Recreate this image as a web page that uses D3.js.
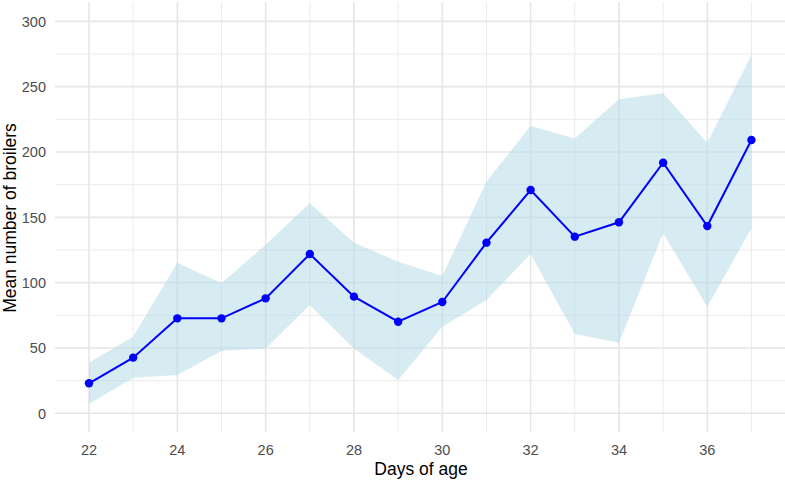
<!DOCTYPE html>
<html><head><meta charset="utf-8">
<script src="https://cdn.jsdelivr.net/npm/d3@7"></script>
<style>body{margin:0;background:#fff}svg{display:block}</style>
</head><body><svg id="c" width="785" height="480"></svg>
<script>
const days = [22,23,24,25,26,27,28,29,30,31,32,33,34,35,36,37];
const meanVals = [23,42.6,72.7,72.7,88,121.9,89.3,70.1,85.2,130.6,170.9,135.2,146.2,191.8,143.3,209.2];
const upperVals = [38.7,58.6,115.3,99.5,129,160.7,130.6,116,105,177.2,219.9,210.4,240.3,244.9,207.1,274.2];
const lowerVals = [7.1,27.2,29.3,47.7,49.7,82.9,49.7,25.5,66.3,86.7,121.9,60.7,54,137.8,81.6,141.6];
const xTicks = [22,24,26,28,30,32,34,36];
const xMinor = [23,25,27,29,31,33,35,37];
const yTicks = [0,50,100,150,200,250,300];
const yMinor = [25,75,125,175,225,275];

const svg = d3.select("#c");
const L=55,R=785,T=2,B=432;
const x = d3.scaleLinear().domain([21.23,37.76]).range([L,R]);
const y = d3.scaleLinear().domain([-14.3,314.8]).range([B,T]);
const font = "'Liberation Sans', Arial, sans-serif";

const g = svg.append("g");
// grid
g.selectAll(".ym").data(yMinor).join("line").attr("x1",L).attr("x2",R)
 .attr("y1",d=>y(d)).attr("y2",d=>y(d)).attr("stroke","#ebebeb").attr("stroke-width",1);
g.selectAll(".xm").data(xMinor).join("line").attr("y1",T).attr("y2",B)
 .attr("x1",d=>x(d)).attr("x2",d=>x(d)).attr("stroke","#ebebeb").attr("stroke-width",1);
g.selectAll(".yM").data(yTicks).join("line").attr("x1",L).attr("x2",R)
 .attr("y1",d=>y(d)).attr("y2",d=>y(d)).attr("stroke","#e6e6e6").attr("stroke-width",1.6);
g.selectAll(".xM").data(xTicks).join("line").attr("y1",T).attr("y2",B)
 .attr("x1",d=>x(d)).attr("x2",d=>x(d)).attr("stroke","#e6e6e6").attr("stroke-width",1.6);

const data = days.map((d,i)=>({d, m:meanVals[i], u:upperVals[i], l:lowerVals[i]}));
const area = d3.area().x(p=>x(p.d)).y0(p=>y(p.l)).y1(p=>y(p.u));
g.append("path").datum(data).attr("d",area).attr("fill","#add8e6").attr("fill-opacity",0.5);
const line = d3.line().x(p=>x(p.d)).y(p=>y(p.m));
g.append("path").datum(data).attr("d",line).attr("fill","none").attr("stroke","#0000ff").attr("stroke-width",2);
g.selectAll("circle").data(data).join("circle").attr("cx",p=>x(p.d)).attr("cy",p=>y(p.m)).attr("r",4.2).attr("fill","#0000ff");

// tick labels
svg.selectAll(".xt").data(xTicks).join("text").attr("x",d=>x(d)).attr("y",455)
 .attr("text-anchor","middle").attr("font-family",font).attr("font-size",14.5).attr("fill","#4d4d4d").text(d=>d);
svg.selectAll(".yt").data(yTicks).join("text").attr("x",46).attr("y",d=>y(d)+5.5)
 .attr("text-anchor","end").attr("font-family",font).attr("font-size",14.5).attr("fill","#4d4d4d").text(d=>d);
svg.append("text").attr("x",421).attr("y",474.5).attr("text-anchor","middle")
 .attr("font-family",font).attr("font-size",17.5).attr("fill","#000").text("Days of age");
svg.append("text").attr("transform",`translate(15.5,218) rotate(-90)`).attr("text-anchor","middle")
 .attr("font-family",font).attr("font-size",17.5).attr("fill","#000").text("Mean number of broilers");
</script></body></html>
